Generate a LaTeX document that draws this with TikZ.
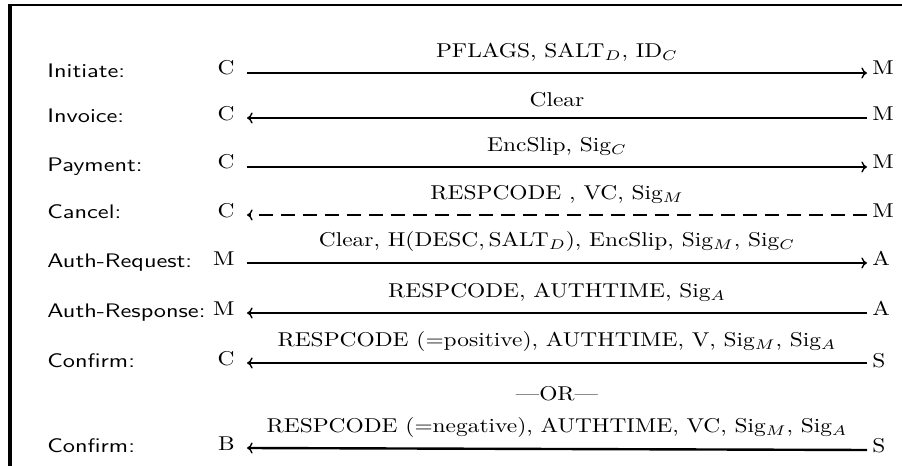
\documentclass[tikz,border=0pt]{standalone}
\usepackage{graphicx}
\usetikzlibrary{arrows.meta}
\newcommand{\hs}[1]{\scalebox{1.17}[1]{#1}}
\newcommand{\hsans}[1]{\scalebox{1.24}[1]{#1}}
\tikzset{
  x=0.5pt, y=-0.5pt,
  txt/.style={font=\fontsize{10pt}{12pt}\selectfont, inner sep=0pt},
  rowlabel/.style={txt, font=\fontsize{9.8pt}{12pt}\selectfont\sffamily, anchor=base west},
  lpart/.style={txt, anchor=base east},
  rpart/.style={txt, anchor=base west},
  msg/.style={line width=1.2pt, -{To[length=2.8pt,width=5.5pt,line width=0.7pt]}},
  dmsg/.style={msg, dash pattern=on 7pt off 4pt},
  mtext/.style={txt, midway, anchor=south, yshift=5pt},
  frame/.style={line cap=butt}
}
\begin{document}
\begin{tikzpicture}
\useasboundingbox (0,0) rectangle (902,466);
% frame
\draw[frame, line width=1.2pt] (8,5.3) -- (902,5.3);
\draw[frame, line width=2pt] (9.5,4.3) -- (9.5,466);
% row labels
\node[rowlabel] (t1) at (47,77) {\hsans{Initiate:}};
\node[rowlabel] (t2) at (47,122) {\hsans{Invoice:}};
\node[rowlabel] (t3) at (47,171) {\hsans{Payment:}};
\node[rowlabel] (t4) at (47,219) {\hsans{Cancel:}};
\node[rowlabel] (t5) at (47,267) {\hsans{Auth-Request:}};
\node[rowlabel] (t6) at (47,317) {\hsans{Auth-Response:}};
\node[rowlabel] (t7) at (47,367) {\hsans{Confirm:}};
\node[rowlabel] (t9) at (47,452) {\hsans{Confirm:}};
% participants left
\node[lpart] (l1) at (235,75) {\hs{C}};
\node[lpart] (l2) at (235,120) {\hs{C}};
\node[lpart] (l3) at (235,169) {\hs{C}};
\node[lpart] (l4) at (235,217) {\hs{C}};
\node[lpart] (l5) at (235,265) {\hs{M}};
\node[lpart] (l6) at (235,315) {\hs{M}};
\node[lpart] (l7) at (235,365) {\hs{C}};
\node[lpart] (l9) at (235,450) {\hs{B}};
% participants right
\node[rpart] (r1) at (872,75) {\hs{M}};
\node[rpart] (r2) at (872,120) {\hs{M}};
\node[rpart] (r3) at (872,169) {\hs{M}};
\node[rpart] (r4) at (872,217) {\hs{M}};
\node[rpart] (r5) at (872,265) {\hs{A}};
\node[rpart] (r6) at (872,315) {\hs{A}};
\node[rpart] (r7) at (872,367) {\hs{S}};
\node[rpart] (r9) at (872,452) {\hs{S}};
% messages
\draw[msg] ([xshift=6pt,yshift=1pt]l1.base east) -- ([xshift=-2.5pt,yshift=1pt]r1.base west)
  node[mtext] {\hs{PFLAGS, SALT$_D$, ID$_C$}};
\draw[msg] ([xshift=-2.5pt,yshift=1pt]r2.base west) -- ([xshift=6pt,yshift=1pt]l2.base east)
  node[mtext] {\hs{Clear}};
\draw[msg] ([xshift=6pt,yshift=1pt]l3.base east) -- ([xshift=-2.5pt,yshift=1pt]r3.base west)
  node[mtext] {\hs{EncSlip, Sig$_C$}};
\draw[dmsg] ([xshift=-2.5pt,yshift=1pt]r4.base west) -- ([xshift=6pt,yshift=1pt]l4.base east)
  node[mtext] {\hs{RESPCODE , VC, Sig$_M$}};
\draw[msg] ([xshift=6pt,yshift=1pt]l5.base east) -- ([xshift=-2.5pt,yshift=1pt]r5.base west)
  node[mtext] {\hs{Clear, H($\mathrm{DESC},\mathrm{SALT}_D$), EncSlip, Sig$_M$, Sig$_C$}};
\draw[msg] ([xshift=-2.5pt,yshift=1pt]r6.base west) -- ([xshift=6pt,yshift=1pt]l6.base east)
  node[mtext] {\hs{RESPCODE, AUTHTIME, Sig$_A$}};
\draw[msg] ([xshift=-2.5pt,yshift=2pt]r7.base west) -- ([xshift=6pt,yshift=1pt]l7.base east)
  node[mtext] {\hs{RESPCODE (=positive), AUTHTIME, V, Sig$_M$, Sig$_A$}};
\node[txt, anchor=base] (or) at (557,400) {\hs{---OR---}};
\draw[msg] ([xshift=-2.5pt,yshift=1pt]r9.base west) -- ([xshift=6pt,yshift=1pt]l9.base east)
  node[mtext] {\hs{RESPCODE (=negative), AUTHTIME, VC, Sig$_M$, Sig$_A$}};
\end{tikzpicture}
\end{document}
